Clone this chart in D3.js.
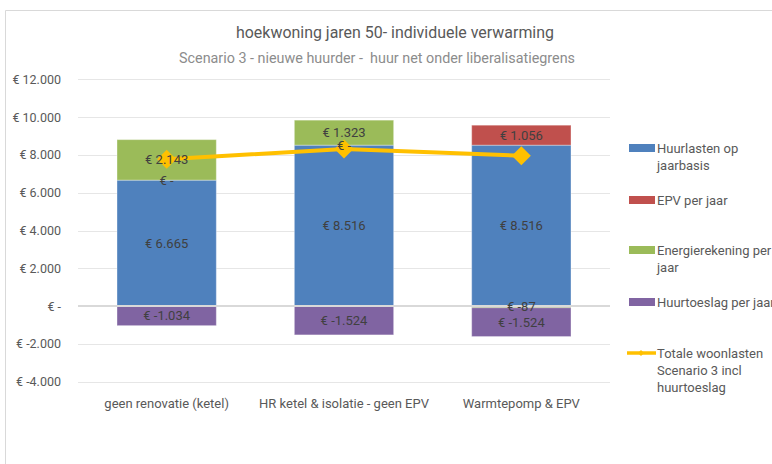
<!DOCTYPE html>
<html>
<head>
<meta charset="utf-8">
<script src="https://cdn.jsdelivr.net/npm/d3@7"></script>
<style>
  body { margin: 0; background: #fff; }
  svg { display: block; font-family: Roboto, "Noto Sans", sans-serif; }
</style>
</head>
<body>
<svg id="chart" width="772" height="464"></svg>
<script>
// data
const categories = ["geen renovatie (ketel)", "HR ketel & isolatie - geen EPV", "Warmtepomp & EPV"];
const huurlasten = [6665, 8516, 8516];
const epvPerJaar = [0, 0, 1056];
const energierekening = [2143, 1323, -87];
const huurtoeslag = [-1034, -1524, -1524];
const totaleWoonlasten = [7774, 8315, 7961];
const yTicks = [-4000, -2000, 0, 2000, 4000, 6000, 8000, 10000, 12000];

const seriesNames = ["Huurlasten op jaarbasis", "EPV per jaar", "Energierekening per jaar", "Huurtoeslag per jaar"];
const lineName = "Totale woonlasten Scenario 3 incl huurtoeslag";
const seriesValues = [huurlasten, epvPerJaar, energierekening, huurtoeslag];
const colors = ["#4F81BD", "#C0504D", "#9BBB59", "#8064A2"];
const lineColor = "#FFC000";

const legendLines = [
  ["Huurlasten op", "jaarbasis"],
  ["EPV per jaar"],
  ["Energierekening per", "jaar"],
  ["Huurtoeslag per jaar"],
  ["Totale woonlasten", "Scenario 3 incl", "huurtoeslag"]
];

const svg = d3.select("#chart");

const nf = d3.formatLocale({decimal: ",", thousands: ".", grouping: [3], currency: ["€ ", ""], minus: "-"}).format(",d");
const euro = v => v === 0 ? "€ -" : "€ " + nf(v);

const x = d3.scaleBand()
  .domain(categories)
  .range([78, 610])
  .paddingInner(0.44)
  .paddingOuter(0.22);

const y = d3.scaleLinear()
  .domain([-4000, 12000])
  .range([381.7, 79.3]);

// chart frame
svg.append("path")
  .attr("d", "M5.5,464 V10.5 H772")
  .attr("fill", "none")
  .attr("stroke", "#d9d9d9");

// titles
svg.append("text")
  .attr("x", 395).attr("y", 37.5)
  .attr("text-anchor", "middle")
  .attr("font-size", 16.5)
  .attr("fill", "#595959")
  .attr("textLength", 318).attr("lengthAdjust", "spacingAndGlyphs")
  .text("hoekwoning jaren 50- individuele verwarming");

svg.append("text")
  .attr("x", 377).attr("y", 63)
  .attr("text-anchor", "middle")
  .attr("font-size", 14.5)
  .attr("fill", "#8c8c8c")
  .attr("xml:space", "preserve")
  .attr("textLength", 396).attr("lengthAdjust", "spacingAndGlyphs")
  .text("Scenario 3 - nieuwe huurder -  huur net onder liberalisatiegrens");

// grid
svg.append("g")
  .selectAll("line")
  .data(yTicks)
  .join("line")
  .attr("x1", 78).attr("x2", 610)
  .attr("y1", d => Math.round(y(d)) + 0.5)
  .attr("y2", d => Math.round(y(d)) + 0.5)
  .attr("stroke", "#e6e6e6");

// y tick labels
const yAxis = d3.axisLeft(y).tickValues(yTicks).tickFormat(euro).tickSize(0).tickPadding(0);
const gy = svg.append("g").attr("transform", "translate(61,0)").call(yAxis);
gy.select(".domain").remove();
gy.selectAll("text")
  .attr("font-size", 12.5)
  .attr("font-family", "Roboto, sans-serif")
  .attr("fill", "#595959");

// stacked segments (own stacking so zero values sit on top of the positive stack)
const segments = [];
categories.forEach((cat, i) => {
  let pos = 0, neg = 0;
  seriesValues.forEach((vals, s) => {
    const v = vals[i];
    let y0, y1;
    if (v >= 0) { y0 = pos; y1 = pos + v; pos = y1; }
    else { y1 = neg; y0 = neg + v; neg = y0; }
    segments.push({cat, s, v, y0, y1});
  });
});

svg.append("g")
  .selectAll("rect")
  .data(segments.filter(d => d.v !== 0))
  .join("rect")
  .attr("x", d => x(d.cat))
  .attr("width", x.bandwidth())
  .attr("y", d => y(d.y1))
  .attr("height", d => y(d.y0) - y(d.y1))
  .attr("fill", d => colors[d.s])
  .attr("stroke", "#ffffff")
  .attr("stroke-opacity", 0.35)
  .attr("stroke-width", 1);

// zero line
svg.append("line")
  .attr("x1", 78).attr("x2", 610)
  .attr("y1", y(0)).attr("y2", y(0))
  .attr("stroke", "#d9d9d9")
  .attr("stroke-width", 2);

// total line
const line = d3.line()
  .x((d, i) => x(categories[i]) + x.bandwidth() / 2)
  .y(d => y(d));

svg.append("path")
  .datum(totaleWoonlasten)
  .attr("d", line)
  .attr("fill", "none")
  .attr("stroke", lineColor)
  .attr("stroke-width", 4)
  .attr("stroke-linejoin", "round");

const diamond = r => `M0,${-r} L${r},0 L0,${r} L${-r},0 Z`;

svg.append("g")
  .selectAll("path")
  .data(totaleWoonlasten)
  .join("path")
  .attr("transform", (d, i) => `translate(${x(categories[i]) + x.bandwidth() / 2},${y(d)})`)
  .attr("d", diamond(9.5))
  .attr("fill", lineColor);

// segment labels (drawn over the line, like the reference)
svg.append("g")
  .selectAll("text")
  .data(segments)
  .join("text")
  .attr("x", d => x(d.cat) + x.bandwidth() / 2)
  .attr("y", d => y((d.y0 + d.y1) / 2) + 4.5)
  .attr("text-anchor", "middle")
  .attr("font-size", 13)
  .attr("fill", "#404040")
  .text(d => euro(d.v));

// category labels
svg.append("g")
  .selectAll("text")
  .data(categories)
  .join("text")
  .attr("x", d => x(d) + x.bandwidth() / 2)
  .attr("y", 407.5)
  .attr("text-anchor", "middle")
  .attr("font-size", 13)
  .attr("fill", "#595959")
  .text(d => d);

// legend
const legendY = [148, 200, 250, 302, 353];
const legend = svg.append("g");

legendLines.forEach((lines, i) => {
  const g = legend.append("g").attr("transform", `translate(0,${legendY[i]})`);
  if (i < 4) {
    g.append("rect")
      .attr("x", 629).attr("y", -4)
      .attr("width", 26).attr("height", 8)
      .attr("fill", colors[i]);
  } else {
    g.append("line")
      .attr("x1", 627).attr("x2", 656)
      .attr("y1", 0).attr("y2", 0)
      .attr("stroke", lineColor)
      .attr("stroke-width", 3.5);
    g.append("path")
      .attr("transform", "translate(641,0)")
      .attr("d", diamond(3))
      .attr("fill", lineColor);
  }
  g.append("text")
    .attr("x", 657)
    .attr("font-size", 13)
    .attr("fill", "#595959")
    .selectAll("tspan")
    .data(lines)
    .join("tspan")
    .attr("x", 657)
    .attr("y", (d, j) => 4.5 + j * 17)
    .text(d => d);
});
</script>
</body>
</html>
